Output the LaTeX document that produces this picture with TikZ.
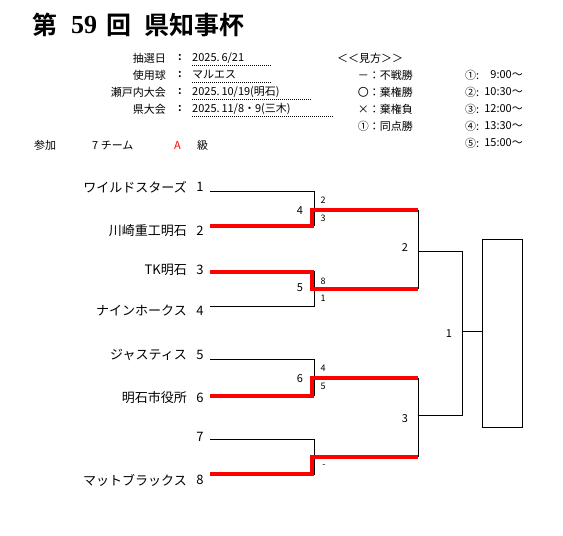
\documentclass[tikz,border=0pt]{standalone}
\usepackage{fontspec}
\setmainfont{Noto Sans CJK JP}
\newfontfamily\cjk{Noto Sans CJK JP}
\newfontfamily\cjkb{Noto Sans CJK JP Bold}
\newfontfamily\sernum{Liberation Serif}
\begin{document}
\begin{tikzpicture}[x=1pt,y=-1pt,
  every node/.style={inner sep=0pt},
  thinline/.style={draw=black, line width=0.9pt},
  winline/.style={draw=red, line width=4pt, line cap=butt, line join=miter},
  dotline/.style={draw=black, line width=0.8pt, dash pattern=on 1pt off 1pt},
  titletext/.style={anchor=west, font=\cjkb\fontsize{25}{25}\selectfont},
  team/.style={anchor=east, font=\cjk\fontsize{13}{13}\selectfont},
  seed/.style={anchor=center, font=\cjk\fontsize{13}{13}\selectfont},
  score/.style={anchor=center, font=\cjk\fontsize{9}{9}\selectfont},
  matchno/.style={anchor=center, font=\cjk\fontsize{11}{11}\selectfont},
  head/.style={anchor=east, font=\cjk\fontsize{11}{11}\selectfont},
  headval/.style={anchor=west, font=\cjk\fontsize{11}{11}\selectfont},
  legend/.style={font=\cjk\fontsize{11}{11}\selectfont}]
\useasboundingbox (0,0) rectangle (563,536);
\fill[white] (0,0) rectangle (563,536);

% title
\node[titletext] (title1) at (32,25) {第};
\node[titletext, font=\sernum\bfseries\fontsize{26}{26}\selectfont] (title2) at (71,25.5) {59};
\node[titletext] (title3) at (106,25) {回};
\node[titletext] (title4) at (144,25) {県知事杯};

% header
\node[head] (h1) at (166,58) {抽選日};
\node[head] (h2) at (166,75) {使用球};
\node[head] (h3) at (166,92) {瀬戸内大会};
\node[head] (h4) at (166,109) {県大会};
\foreach \y/\n in {58/c1,75/c2,92/c3,109/c4}
  \node[legend, anchor=center, font=\cjkb\fontsize{11}{11}\selectfont] (\n) at (180,\y) {:};
\node[headval] (v1) at (192,58) {2025.\,6/21};
\node[headval] (v2) at (192,75) {マルエス};
\node[headval] (v3) at (192,92) {2025.\,10/19(明石)};
\node[headval] (v4) at (192,109) {2025.\,11/8・9(三木)};
\coordinate (d1a) at (192,65.5); \coordinate (d1b) at (271,65.5);
\coordinate (d2a) at (192,82.5); \coordinate (d2b) at (271,82.5);
\coordinate (d3a) at (192,99.5); \coordinate (d3b) at (311,99.5);
\coordinate (d4a) at (192,116.5); \coordinate (d4b) at (333,116.5);
\draw[dotline] (d1a) -- (d1b);
\draw[dotline] (d2a) -- (d2b);
\draw[dotline] (d3a) -- (d3b);
\draw[dotline] (d4a) -- (d4b);

% legend
\node[legend, anchor=west] (lg0) at (337,58) {＜＜見方＞＞};
\node[legend, anchor=east] (lg1) at (413,75) {－：不戦勝};
\node[legend, anchor=east] (lg2) at (413,92) {〇：棄権勝};
\node[legend, anchor=east] (lg3) at (413,109) {×：棄権負};
\node[legend, anchor=east] (lg4) at (413,126) {①：同点勝};
\foreach \y/\s/\t/\n in {75/①/9:00～/a,92/②/10:30～/b,109/③/12:00～/c,126/④/13:30～/d,143/⑤/15:00～/e}{
  \node[legend, anchor=west] (tm\n) at (465,\y) {\s:};
  \node[legend, anchor=east] (tt\n) at (523,\y) {\t};
}

% participation
\node[legend, anchor=west] (p1) at (34,145) {参加};
\node[legend, anchor=west] (p2) at (92,145) {7 チーム};
\node[legend, anchor=west, text=red] (p3) at (174,145) {A};
\node[legend, anchor=west] (p4) at (197,145) {級};

% team labels
\node[team] (n1) at (187,187) {ワイルドスターズ};
\node[team] (n2) at (187,231) {川崎重工明石};
\node[team] (n3) at (187,270) {TK明石};
\node[team] (n4) at (187,311) {ナインホークス};
\node[team] (n5) at (187,355) {ジャスティス};
\node[team] (n6) at (187,398) {明石市役所};
\node[team] (n8) at (187,480) {マットブラックス};
\node[seed] (s1) at (200,187) {1};
\node[seed] (s2) at (200,231) {2};
\node[seed] (s3) at (200,270) {3};
\node[seed] (s4) at (200,311) {4};
\node[seed] (s5) at (200,355) {5};
\node[seed] (s6) at (200,398) {6};
\node[seed] (s7) at (200,437) {7};
\node[seed] (s8) at (200,480) {8};

% bracket coordinates
\coordinate (t1) at (210,191.7);
\coordinate (t2) at (210,225.7);
\coordinate (t3) at (210,271.7);
\coordinate (t4) at (210,306.7);
\coordinate (t5) at (210,359.3);
\coordinate (t6) at (210,395.7);
\coordinate (t7) at (210,439);
\coordinate (t8) at (210,474);
\coordinate (r1) at (418,209.7);
\coordinate (r2) at (418,289.3);
\coordinate (r3) at (418,377.7);
\coordinate (r4) at (418,457);
\coordinate (q1) at (418,251.7);
\coordinate (q2) at (418,415);
\coordinate (f1) at (462,251.7);
\coordinate (f2) at (462,415);
\coordinate (fm) at (462,331.7);
\coordinate (fe) at (482.3,331.7);

% first round black brackets
\draw[thinline] (t1) -| (314,225.7) -- (t2);
\draw[thinline] (t3) -| (314,306.7) -- (t4);
\draw[thinline] (t5) -| (314,395.7) -- (t6);
\draw[thinline] (t7) -| (314,474) -- (t8);

% second round / final black
\draw[thinline] (r1) -- (r2);
\draw[thinline] (r3) -- (r4);
\draw[thinline] (q1) -- (f1) -- (f2) -- (q2);
\draw[thinline] (fm) -- (fe);
\node[draw, line width=0.9pt, minimum width=40pt, minimum height=188pt, anchor=north west] (champ) at (482.3,239.3) {};

% winners (red)
\draw[winline] (t2) -- (312.3,225.7) |- (r1);
\draw[winline] (t3) -- (312.3,271.7) |- (r2);
\draw[winline] (t6) -- (312.3,395.7) |- (r3);
\draw[winline] (t8) -- (312.3,474) |- (r4);

% match numbers
\node[matchno] (m4) at (300,210.5) {4};
\node[matchno] (m5) at (300,288) {5};
\node[matchno] (m6) at (300,379) {6};
\node[matchno] (m2) at (405,248) {2};
\node[matchno] (m3) at (405,419) {3};
\node[matchno] (m1) at (449,334) {1};

% scores
\node[score] (sc1) at (323,200.7) {2};
\node[score] (sc2) at (323,218) {3};
\node[score] (sc3) at (323,281.7) {8};
\node[score] (sc4) at (323,298) {1};
\node[score] (sc5) at (323,368) {4};
\node[score] (sc6) at (323,386) {5};
\node[score] (sc8) at (324,466) {-};
\end{tikzpicture}
\end{document}
